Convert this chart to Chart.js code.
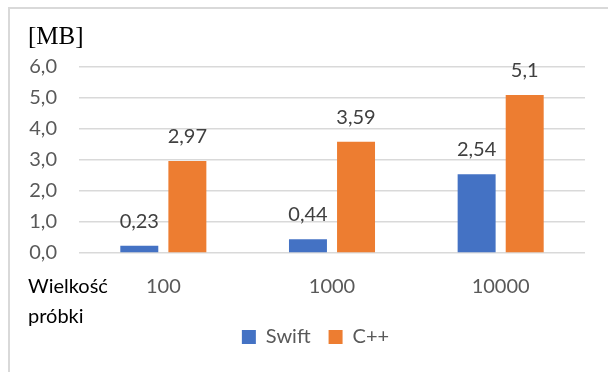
<!DOCTYPE html>
<html>
<head>
<meta charset="utf-8">
<script src="https://cdn.jsdelivr.net/npm/chart.js@4/dist/chart.umd.min.js"></script>
<style>
  html, body { margin: 0; padding: 0; background: #fff; overflow: hidden; }
  #wrap { position: relative; width: 608px; height: 372px; }
  #frame { position: absolute; left: 8px; top: 7px; width: 700px; height: 500px;
           border: 2px solid #d9d9d9; box-sizing: border-box; }
  canvas { position: absolute; left: 0; top: 0; }
</style>
</head>
<body>
<div id="wrap">
  <div id="frame"></div>
  <canvas id="c" width="608" height="372"></canvas>
</div>
<script>
// Memory usage per sample size
const categories = ['100', '1000', '10000'];
const swiftValues = [0.23, 0.44, 2.54];
const cppValues = [2.97, 3.59, 5.1];
const seriesNames = ['Swift', 'C++'];
const unitLabel = '[MB]';
const axisCaption = ['Wielkość', 'próbki'];

const FONT = 'Lato, "Open Sans", sans-serif';
const TEXT = '#595959';

const fmt = v => String(v).replace('.', ',');

// Value labels above bars, unit label and x-axis caption
const annotate = {
  id: 'annotate',
  afterLayout(chart) {
    // centre the legend under the plot instead of the whole canvas
    const lg = chart.legend;
    if (lg) { lg.left += 23; lg.right += 23; }
  },
  afterDatasetsDraw(chart) {
    const ctx = chart.ctx;
    ctx.save();
    ctx.font = '20px ' + FONT;
    ctx.fillStyle = '#404040';
    ctx.textAlign = 'center';
    ctx.textBaseline = 'alphabetic';
    chart.data.datasets.forEach((ds, di) => {
      const meta = chart.getDatasetMeta(di);
      meta.data.forEach((bar, i) => {
        ctx.fillText(fmt(ds.data[i]), bar.x, bar.y - 18);
      });
    });
    const left = 28;
    ctx.textAlign = 'left';
    ctx.fillStyle = '#000';
    ctx.font = '25px "Liberation Serif", "Times New Roman", serif';
    ctx.fillText(unitLabel, left, 44);
    ctx.font = '20px ' + FONT;
    ctx.fillText(axisCaption[0], left, 293);
    ctx.fillText(axisCaption[1], left, 323);
    ctx.restore();
  }
};

new Chart(document.getElementById('c'), {
  type: 'bar',
  data: {
    labels: categories,
    datasets: [
      { label: seriesNames[0], data: swiftValues, backgroundColor: '#4472C4',
        categoryPercentage: 0.57, barPercentage: 0.79 },
      { label: seriesNames[1], data: cppValues, backgroundColor: '#ED7D31',
        categoryPercentage: 0.57, barPercentage: 0.79 }
    ]
  },
  options: {
    responsive: false,
    animation: false,
    devicePixelRatio: 1,
    layout: { padding: { left: 0, right: 23, top: 67, bottom: 15 } },
    plugins: {
      legend: {
        position: 'bottom',
        labels: {
          boxWidth: 14, boxHeight: 14, padding: 18,
          color: TEXT, font: { family: FONT, size: 20 }
        }
      },
      tooltip: { enabled: false }
    },
    scales: {
      x: {
        grid: { display: false, drawTicks: false },
        border: { display: false },
        ticks: { color: TEXT, font: { family: FONT, size: 20 }, padding: 22 },
        afterFit(scale) { scale.height = 56; }
      },
      y: {
        min: 0, max: 6,
        grid: { color: '#d9d9d9', lineWidth: 1.5, drawTicks: false },
        border: { display: false },
        ticks: {
          stepSize: 1, color: TEXT, padding: 22,
          font: { family: FONT, size: 20 },
          callback: v => v.toFixed(1).replace('.', ',')
        },
        afterFit(scale) { scale.width = 79; }
      }
    }
  },
  plugins: [annotate]
});
</script>
</body>
</html>
